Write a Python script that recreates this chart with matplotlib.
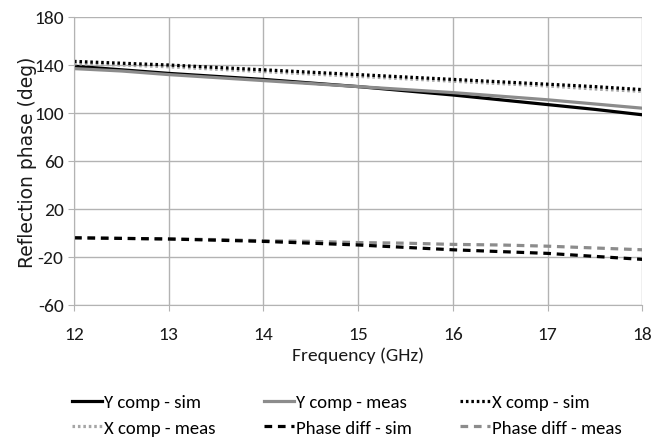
import numpy as np
import matplotlib
matplotlib.use('Agg')
import matplotlib.pyplot as plt

# ---- data ----
freq = [12, 12.5, 13, 13.5, 14, 14.5, 15, 15.5, 16, 16.5, 17, 17.5, 18]
y_sim = [139, 136, 133, 130.5, 128, 125, 122, 118.5, 115, 111, 107, 103, 98.5]
y_meas = [137, 135, 132, 129.5, 127, 124.5, 122, 119.5, 117, 114, 111, 107.5, 104]
x_sim = [143, 141.5, 140, 138, 136, 134, 132, 130, 128, 126, 124, 122, 119.5]
x_meas = [141, 140, 138.5, 136.5, 134.5, 132.5, 130.5, 128.5, 126.5, 124.5, 122.5, 120, 118]
pd_sim = [-4, -4.5, -5, -6, -7, -8.5, -10, -12, -14, -15.5, -17, -19.5, -22]
pd_meas = [-4, -4.5, -5, -5.5, -6.5, -7, -8, -8.5, -9.5, -10, -11, -12.5, -14]

BLACK = '#000000'
GRAY = '#8c8c8c'
LGRAY = '#a6a6a6'
GRID = '#b3b3b3'

plt.rcParams.update({'font.family': ['Carlito', 'DejaVu Sans'],
                     'axes.unicode_minus': False})

fig = plt.figure(figsize=(6.67, 4.39), dpi=100)
ax = fig.add_axes([0.111, 0.303, 0.852, 0.656])

lw = 2.3
dots = (0, (0.8, 0.9))
dashes = (0, (2.4, 1.8))
h1, = ax.plot(freq, y_sim, color=BLACK, lw=lw, label='Y comp - sim')
h2, = ax.plot(freq, y_meas, color=GRAY, lw=lw, label='Y comp - meas')
h4, = ax.plot(freq, x_meas, color=LGRAY, lw=lw, ls=dots, label='X comp - meas')
h3, = ax.plot(freq, x_sim, color=BLACK, lw=lw, ls=dots, label='X comp - sim')
h6, = ax.plot(freq, pd_meas, color=GRAY, lw=lw, ls=dashes, label='Phase diff - meas')
h5, = ax.plot(freq, pd_sim, color=BLACK, lw=lw, ls=dashes, label='Phase diff - sim')

ax.set_xlim(12, 18)
ax.set_ylim(-60, 180)
ax.set_xticks(range(12, 19))
ax.set_yticks(range(-60, 181, 40))
ax.grid(True, color=GRID, lw=1)
for side in ['top', 'right']:
    ax.spines[side].set_visible(False)
for side in ['left', 'bottom']:
    ax.spines[side].set_color(GRID)
ax.tick_params(axis='both', colors=GRID, labelcolor='#1a1a1a', labelsize=14, length=4)
ax.tick_params(axis='x', pad=11)

ax.set_xlabel('Frequency (GHz)', fontsize=14, color='#1a1a1a', labelpad=3)
ax.set_ylabel('Reflection phase (deg)', fontsize=13.5, family='DejaVu Sans', color='#1a1a1a', labelpad=-2)

# legend order row-wise: 3 columns
handles = [h1, h4, h2, h5, h3, h6]
fig.legend(handles=handles, labels=[h.get_label() for h in handles], ncol=3,
           loc='lower center', bbox_to_anchor=(0.52, 0.005), frameon=False, fontsize=13.5,
           handlelength=1.6, handletextpad=0.1, columnspacing=2.6, labelspacing=0.5,
           borderaxespad=0, borderpad=0)

fig.savefig('out.png', dpi=100)
